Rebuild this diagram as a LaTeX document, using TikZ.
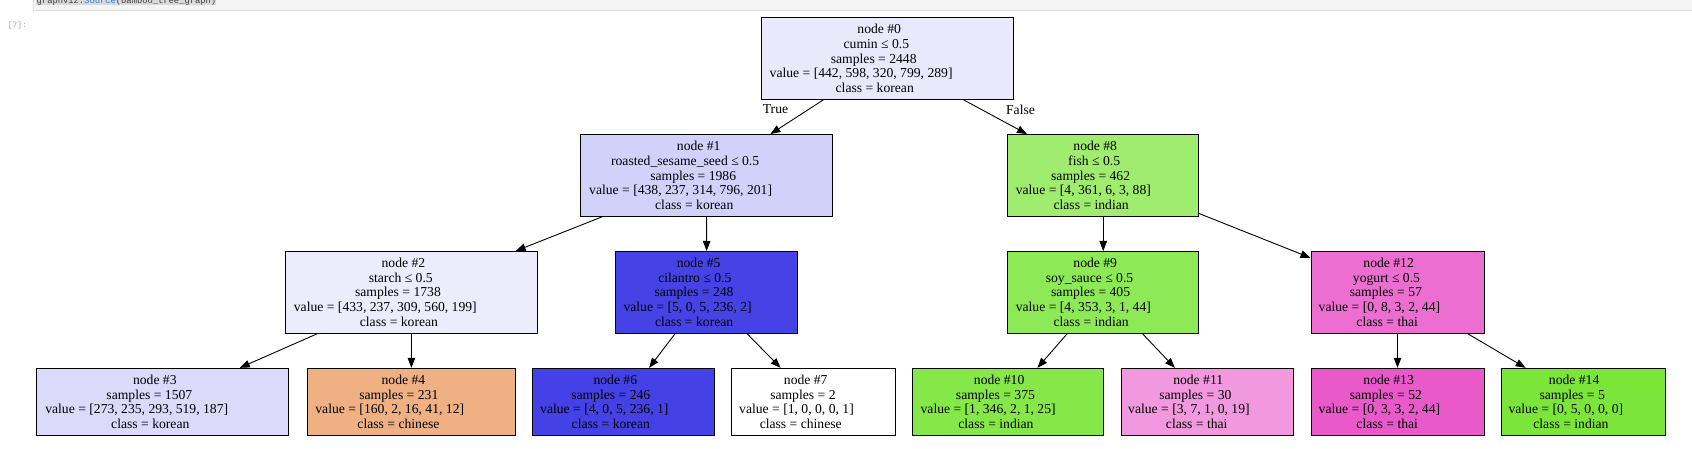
\documentclass[tikz,border=0pt]{standalone}
\usepackage{fontspec}
\setmainfont{Liberation Serif}
\newfontfamily\codefont{Liberation Mono}
\usetikzlibrary{arrows.meta}

\newcommand{\treefont}{\fontsize{13.65}{14.6}\selectfont}
% one text line, set a bit left of the box centre
\newcommand{\gvl}[1]{\setbox0\hbox{#1}\hbox{\unhcopy0\hspace*{\dimexpr 4.6pt+\wd0*26/100\relax}}}

\definecolor{fill0}{RGB}{234,233,252}
\definecolor{fill1}{RGB}{210,209,249}
\definecolor{fill2}{RGB}{236,236,252}
\definecolor{fill3}{RGB}{219,218,250}
\definecolor{fill4}{RGB}{239,176,131}
\definecolor{fill5}{RGB}{70,67,230}
\definecolor{fill6}{RGB}{68,65,230}
\definecolor{fill7}{RGB}{255,255,255}
\definecolor{fill8}{RGB}{159,236,111}
\definecolor{fill9}{RGB}{142,233,86}
\definecolor{fill10}{RGB}{134,231,73}
\definecolor{fill11}{RGB}{241,152,222}
\definecolor{fill12}{RGB}{236,110,209}
\definecolor{fill13}{RGB}{233,89,202}
\definecolor{fill14}{RGB}{123,229,57}
\definecolor{cellgray}{RGB}{245,245,245}
\definecolor{cellline}{RGB}{221,221,221}
\definecolor{codeblue}{RGB}{47,127,208}

\begin{document}
\begin{tikzpicture}[
            x=1pt, y=-1pt,
            split/.style={draw, rectangle, line width=1pt, minimum height=81.6pt,
                align=center, inner sep=0pt, font=\treefont},
            leaf/.style={split, minimum height=66.7pt},
            edge/.style={line width=0.9pt, -{Triangle[length=10pt, width=7.5pt]}},
            elabel/.style={font=\treefont}
        ]
            \useasboundingbox (0,0) rectangle (1692,449);
            % Notebook cell above the output
            \fill[cellgray] (33,0) rectangle (1692,10.3);
            \draw[cellline, line width=1pt] (33,0) -- (33,10.3) -- (1692,10.3);
            \begin{scope}
                \clip (33,0) rectangle (1692,10);
                \fill[black!15] (36,0) rectangle (216,5.3);
                \node[anchor=base west, inner sep=0pt, font=\codefont\fontsize{8.8}{10}\selectfont,
                    text=black!75] (code) at (36.5,3.8)
                    {graphviz.\textcolor{codeblue}{Source}(bamboo\_tree\_graph)};
            \end{scope}
            \node[font=\codefont\fontsize{8}{10}\selectfont, text=black!35, inner sep=0pt]
                (prompt) at (17.5,25) {[7]:};
            % Root
            \node[split, fill=fill0, minimum width=252pt] (n0) at (887.2,58.5)
                {\gvl{node \#0}\\\gvl{cumin ≤ 0.5}\\\gvl{samples = 2448}\\\gvl{value = [442, 598, 320, 799, 289]}\\\gvl{class = korean}};
            % Depth 1
            \node[split, fill=fill1, minimum width=252pt] (n1) at (706.7,175.4)
                {\gvl{node \#1}\\\gvl{roasted\_sesame\_seed ≤ 0.5}\\\gvl{samples = 1986}\\\gvl{value = [438, 237, 314, 796, 201]}\\\gvl{class = korean}};
            \node[split, fill=fill8, minimum width=191pt] (n8) at (1103.2,175.4)
                {\gvl{node \#8}\\\gvl{fish ≤ 0.5}\\\gvl{samples = 462}\\\gvl{value = [4, 361, 6, 3, 88]}\\\gvl{class = indian}};
            % Depth 2
            \node[split, fill=fill2, minimum width=252pt] (n2) at (411.4,292.3)
                {\gvl{node \#2}\\\gvl{starch ≤ 0.5}\\\gvl{samples = 1738}\\\gvl{value = [433, 237, 309, 560, 199]}\\\gvl{class = korean}};
            \node[split, fill=fill5, minimum width=182pt] (n5) at (706.6,292.3)
                {\gvl{node \#5}\\\gvl{cilantro ≤ 0.5}\\\gvl{samples = 248}\\\gvl{value = [5, 0, 5, 236, 2]}\\\gvl{class = korean}};
            \node[split, fill=fill9, minimum width=191pt] (n9) at (1103.2,292.3)
                {\gvl{node \#9}\\\gvl{soy\_sauce ≤ 0.5}\\\gvl{samples = 405}\\\gvl{value = [4, 353, 3, 1, 44]}\\\gvl{class = indian}};
            \node[split, fill=fill12, minimum width=173pt] (n12) at (1397.5,292.3)
                {\gvl{node \#12}\\\gvl{yogurt ≤ 0.5}\\\gvl{samples = 57}\\\gvl{value = [0, 8, 3, 2, 44]}\\\gvl{class = thai}};
            % Leaves
            \node[leaf, fill=fill3, minimum width=252pt] (n3) at (162.8,401.7)
                {\gvl{node \#3}\\\gvl{samples = 1507}\\\gvl{value = [273, 235, 293, 519, 187]}\\\gvl{class = korean}};
            \node[leaf, fill=fill4, minimum width=208pt] (n4) at (411.4,401.7)
                {\gvl{node \#4}\\\gvl{samples = 231}\\\gvl{value = [160, 2, 16, 41, 12]}\\\gvl{class = chinese}};
            \node[leaf, fill=fill6, minimum width=182pt] (n6) at (623.3,401.7)
                {\gvl{node \#6}\\\gvl{samples = 246}\\\gvl{value = [4, 0, 5, 236, 1]}\\\gvl{class = korean}};
            \node[leaf, fill=fill7, minimum width=164pt] (n7) at (813.7,401.7)
                {\gvl{node \#7}\\\gvl{samples = 2}\\\gvl{value = [1, 0, 0, 0, 1]}\\\gvl{class = chinese}};
            \node[leaf, fill=fill10, minimum width=191pt] (n10) at (1008,401.7)
                {\gvl{node \#10}\\\gvl{samples = 375}\\\gvl{value = [1, 346, 2, 1, 25]}\\\gvl{class = indian}};
            \node[leaf, fill=fill11, minimum width=172pt] (n11) at (1207,401.7)
                {\gvl{node \#11}\\\gvl{samples = 30}\\\gvl{value = [3, 7, 1, 0, 19]}\\\gvl{class = thai}};
            \node[leaf, fill=fill13, minimum width=173pt] (n13) at (1397.5,401.7)
                {\gvl{node \#13}\\\gvl{samples = 52}\\\gvl{value = [0, 3, 3, 2, 44]}\\\gvl{class = thai}};
            \node[leaf, fill=fill14, minimum width=164pt] (n14) at (1583,401.7)
                {\gvl{node \#14}\\\gvl{samples = 5}\\\gvl{value = [0, 5, 0, 0, 0]}\\\gvl{class = indian}};
            % Edges
            \draw[edge] (n0) -- (n1);
            \draw[edge] (n0) -- (n8);
            \draw[edge] (n1) -- (n2);
            \draw[edge] (n1) -- (n5);
            \draw[edge] (n2) -- (n3);
            \draw[edge] (n2) -- (n4);
            \draw[edge] (n5) -- (n6);
            \draw[edge] (n5) -- (n7);
            \draw[edge] (n8) -- (n9);
            \draw[edge] (n8) -- (n12);
            \draw[edge] (n9) -- (n10);
            \draw[edge] (n9) -- (n11);
            \draw[edge] (n12) -- (n13);
            \draw[edge] (n12) -- (n14);
            \node[elabel] (lbltrue) at (775.5,109.5) {True};
            \node[elabel] (lblfalse) at (1020.5,110) {False};
        \end{tikzpicture}
\end{document}
